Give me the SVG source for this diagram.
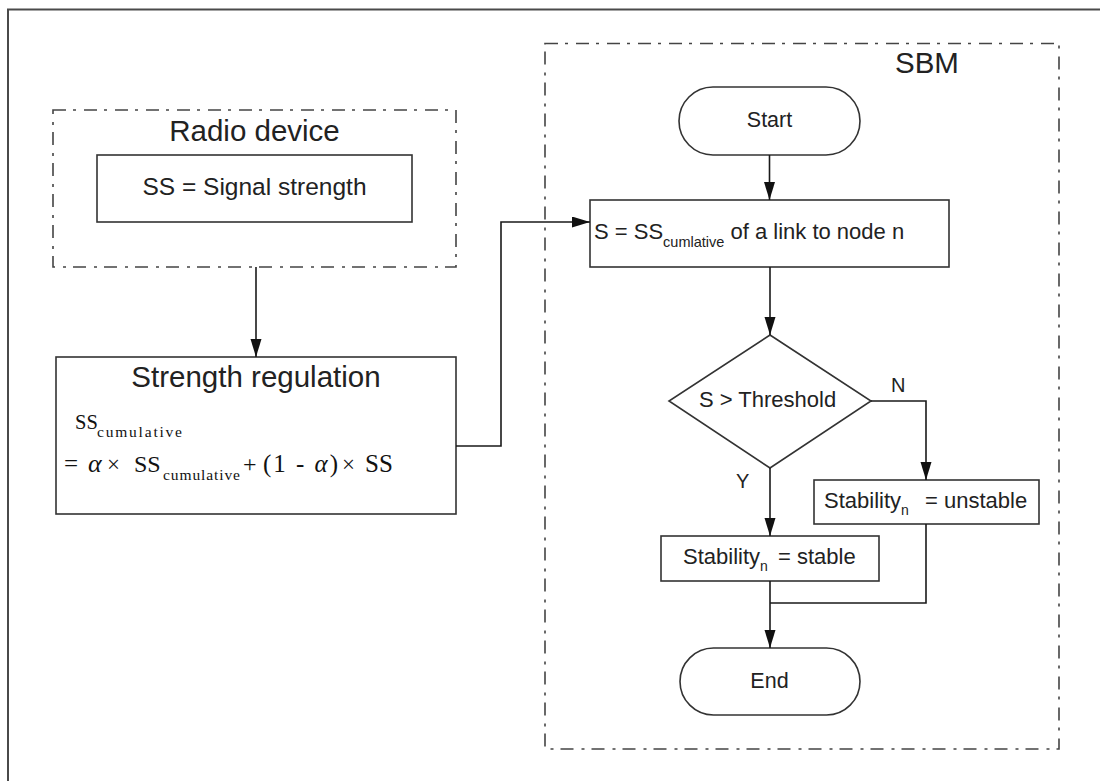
<svg xmlns="http://www.w3.org/2000/svg" width="1100" height="781" viewBox="0 0 1100 781">
<style>
.frame{fill:none;stroke:#4a4a4a;stroke-width:2}
.dash{fill:none;stroke:#444;stroke-width:1.6;stroke-dasharray:13 7 3 8}
.box{fill:#fff;stroke:#333;stroke-width:1.6}
.conn{fill:none;stroke:#1a1a1a;stroke-width:1.6}
.t{font-family:"Liberation Sans",Arial,sans-serif;fill:#222}
.title{font-size:29.5px}
.body{font-size:22px}
.m{font-family:"Liberation Serif","Times New Roman",serif;fill:#111}
</style>
<defs>
<marker id="arr" markerUnits="userSpaceOnUse" markerWidth="19" markerHeight="12" refX="18" refY="5.5" orient="auto">
<path d="M0,0 L18,5.5 L0,11 z" fill="#111"/>
</marker>
</defs>
<rect x="0" y="0" width="1100" height="781" fill="#fff"/>
<rect class="frame" x="8" y="9.5" width="1200" height="900"/>

<g id="radio-device">
<rect class="dash" x="53" y="110" width="403" height="157"/>
<text class="t title" x="254.5" y="141" text-anchor="middle">Radio device</text>
<rect class="box" x="97" y="155" width="315" height="67"/>
<text class="t" x="254.5" y="195" text-anchor="middle" font-size="24.5">SS = Signal strength</text>
</g>

<g id="strength-regulation">
<rect class="box" x="56" y="357" width="400" height="157"/>
<text class="t title" x="256" y="387" text-anchor="middle">Strength regulation</text>
<text class="m" x="75" y="429" font-size="20.5">SS</text>
<text class="m" x="97" y="437" font-size="15.5" textLength="85" lengthAdjust="spacing">cumulative</text>
<text class="m" x="64" y="472" font-size="25">=</text>
<text class="m" x="88" y="472" font-size="26" font-style="italic">α</text>
<text class="m" x="107" y="472" font-size="23">×</text>
<text class="m" x="134" y="472" font-size="24">SS</text>
<text class="m" x="163" y="480" font-size="15.5" textLength="77" lengthAdjust="spacing">cumulative</text>
<text class="m" x="243" y="472" font-size="24">+</text>
<text class="m" x="263" y="472" font-size="25" textLength="75" lengthAdjust="spacing">(1 - <tspan font-style="italic">α</tspan>)</text>
<text class="m" x="342" y="472" font-size="23">×</text>
<text class="m" x="365" y="472" font-size="25">SS</text>
</g>

<g id="sbm">
<rect class="dash" x="545" y="43.5" width="514" height="705.5"/>
<text class="t title" x="895" y="73">SBM</text>
</g>

<g id="start">
<rect class="box" x="679" y="87" width="181" height="68" rx="34" ry="34"/>
<text class="t" x="769.5" y="127" text-anchor="middle" font-size="21.5">Start</text>
</g>

<g id="s-assign">
<rect class="box" x="590" y="200" width="359" height="67"/>
<text class="t body" x="594" y="239">S = SS<tspan font-size="14.5" dy="8">cumlative</tspan><tspan dy="-8"> of a link to node n</tspan></text>
</g>

<g id="decision">
<polygon class="box" points="770,335 871,401 770,468 669,401"/>
<text class="t body" x="699" y="407">S &gt; Threshold</text>
</g>

<g id="stable">
<rect class="box" x="661" y="536" width="218" height="45"/>
<text class="t body" x="683" y="564">Stability<tspan font-size="14" dy="7">n</tspan></text>
<text class="t body" x="778" y="564">= stable</text>
</g>

<g id="unstable">
<rect class="box" x="814" y="480" width="225" height="44"/>
<text class="t body" x="824" y="508">Stability<tspan font-size="14" dy="7">n</tspan></text>
<text class="t body" x="925" y="508">= unstable</text>
</g>

<g id="end">
<rect class="box" x="680" y="648" width="180" height="67" rx="33.5" ry="33.5"/>
<text class="t" x="769.5" y="688" text-anchor="middle" font-size="21.5">End</text>
</g>

<g id="connectors">
<path class="conn" d="M256,267 L256,357" marker-end="url(#arr)"/>
<path class="conn" d="M456,446 L501,446 L501,222 L590,222" marker-end="url(#arr)"/>
<path class="conn" d="M769.5,155 L769.5,200" marker-end="url(#arr)"/>
<path class="conn" d="M770,267 L770,335" marker-end="url(#arr)"/>
<path class="conn" d="M770,468 L770,536" marker-end="url(#arr)"/>
<path class="conn" d="M871,401 L926,401 L926,480" marker-end="url(#arr)"/>
<path class="conn" d="M770,581 L770,648" marker-end="url(#arr)"/>
<path class="conn" d="M926,524 L926,603 L770,603"/>
<text class="t" x="891" y="392" font-size="20">N</text>
<text class="t" x="736" y="488" font-size="20">Y</text>
</g>
</svg>
